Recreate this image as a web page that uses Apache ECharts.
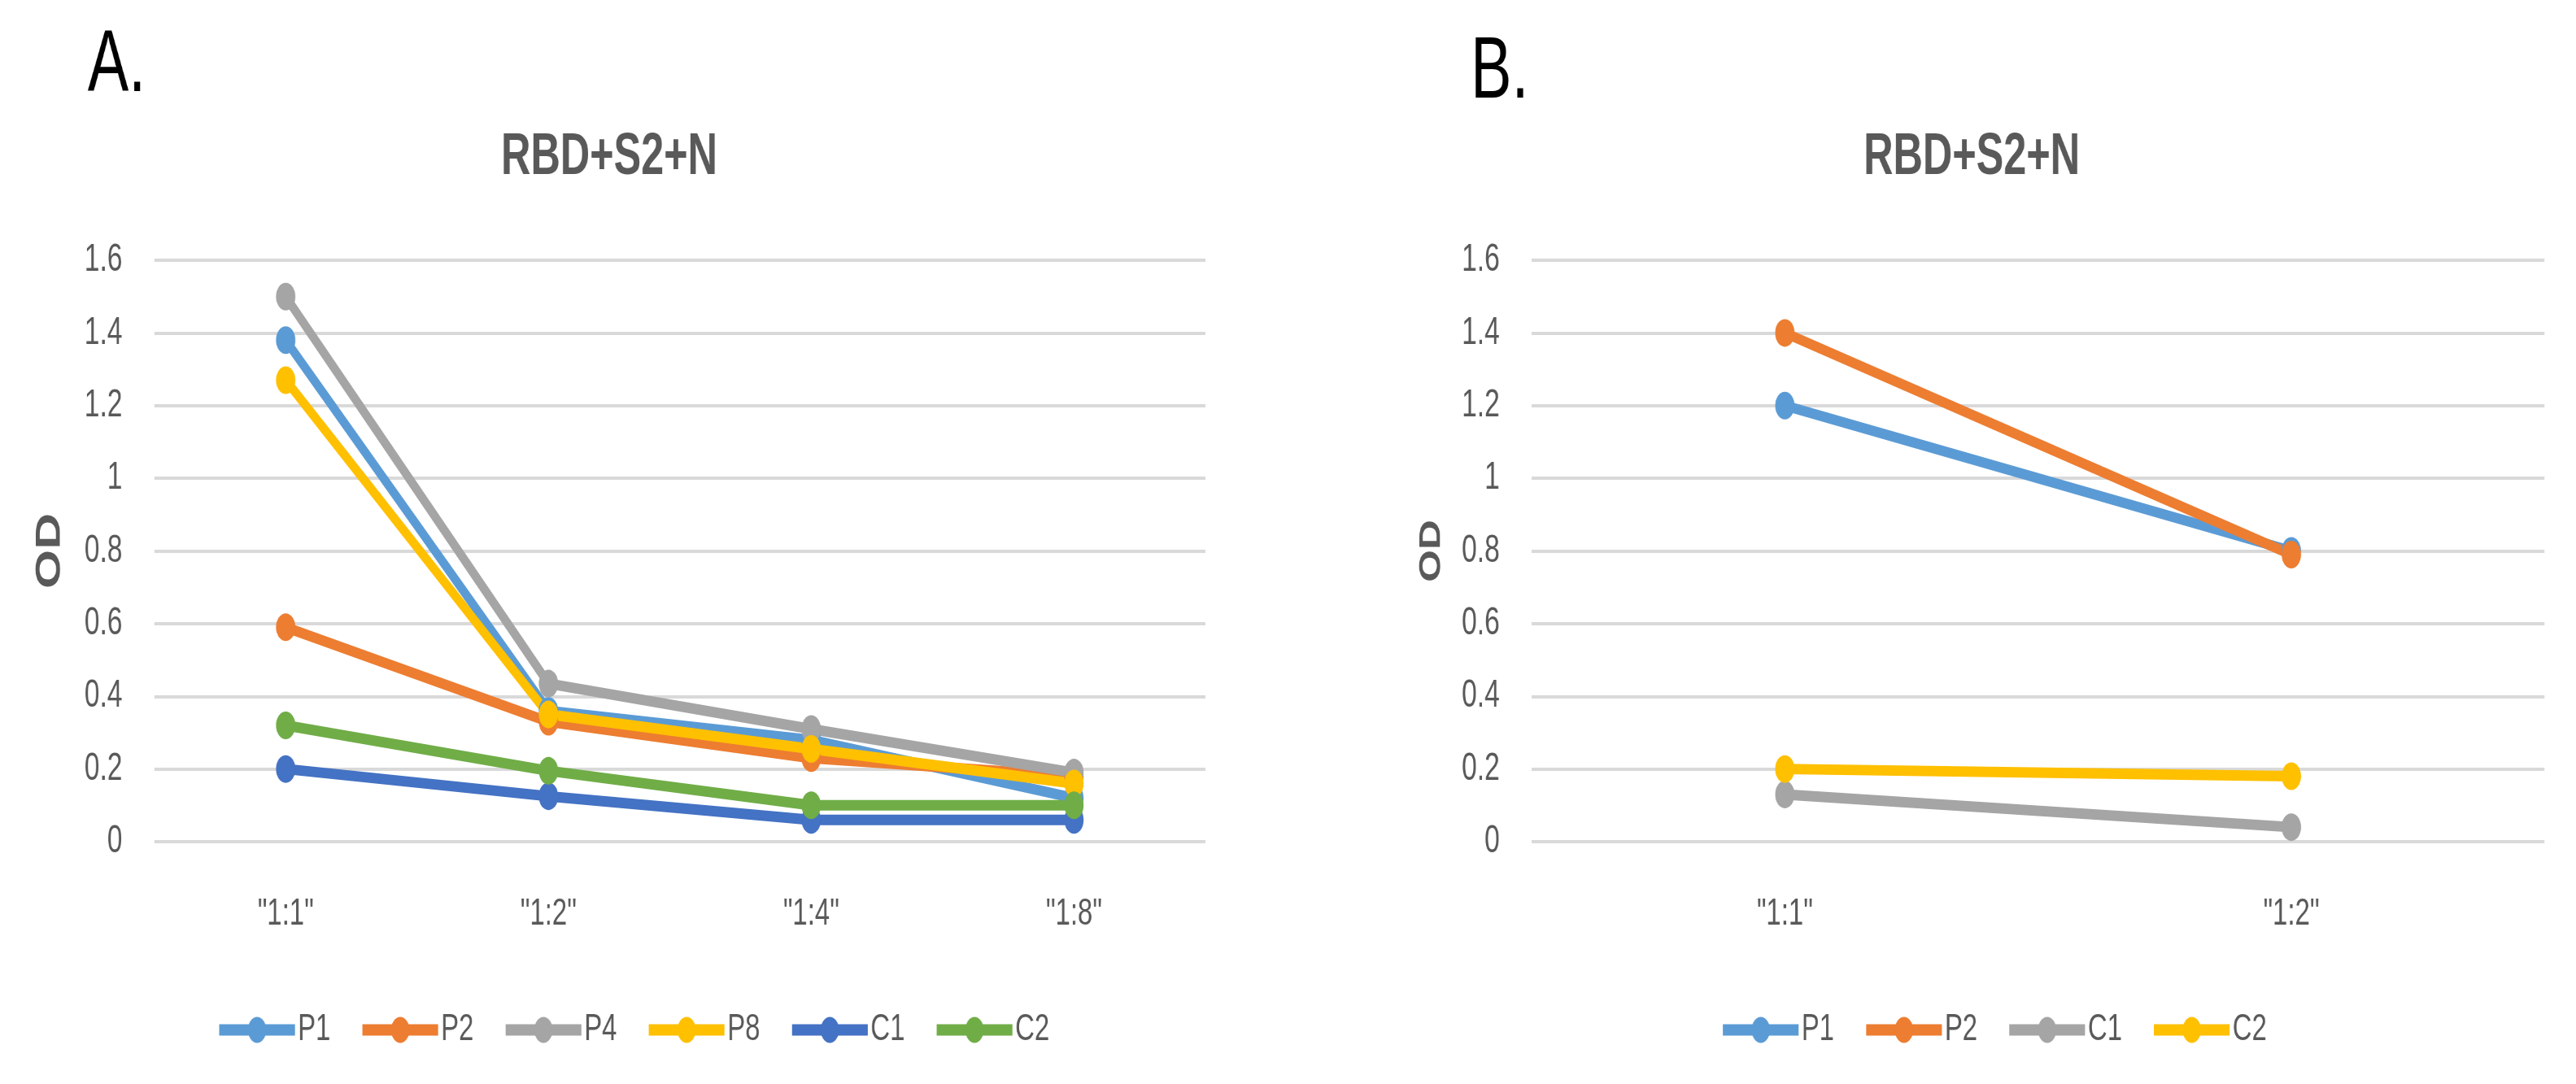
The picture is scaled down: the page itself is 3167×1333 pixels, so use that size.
<!DOCTYPE html>
<html>
<head>
<meta charset="utf-8">
<title>RBD+S2+N</title>
<script src="https://cdn.jsdelivr.net/npm/echarts@6/dist/echarts.min.js"></script>
<style>
  html, body { margin: 0; padding: 0; background: #fff; overflow: hidden; }
  #main { height: 1333px; transform-origin: 0 0; }
</style>
</head>
<body>
<div id="main"></div>
<script>
// panel A: dilution series for patients and controls
var catsA = ['"1:1"', '"1:2"', '"1:4"', '"1:8"'];
var namesA = ['P1', 'P2', 'P4', 'P8', 'C1', 'C2'];
var P1a = [1.38, 0.36, 0.28, 0.12];
var P2a = [0.59, 0.33, 0.23, 0.18];
var P4a = [1.50, 0.435, 0.31, 0.19];
var P8a = [1.27, 0.35, 0.255, 0.16];
var C1a = [0.20, 0.125, 0.06, 0.06];
var C2a = [0.32, 0.195, 0.10, 0.10];

// panel B
var catsB = ['"1:1"', '"1:2"'];
var namesB = ['P1', 'P2', 'C1', 'C2'];
var P1b = [1.20, 0.80];
var P2b = [1.40, 0.79];
var C1b = [0.13, 0.04];
var C2b = [0.20, 0.18];

// y axis ticks
var yMin = 0, yMax = 1.6, yStep = 0.2;

var colorsA = ['#5B9BD5', '#ED7D31', '#A5A5A5', '#FFC000', '#4472C4', '#70AD47'];
var colorsB = ['#5B9BD5', '#ED7D31', '#A5A5A5', '#FFC000'];

// the source figure is squeezed sideways, so the whole canvas is drawn wide and squeezed back
var SQ = 0.7;
var W = 3167;
function sx(v) { return Math.round(v / SQ); }

var FONT = "'Liberation Sans', Arial, sans-serif";
var GREY_TEXT = '#595959';

var el = document.getElementById('main');
el.style.width = sx(W) + 'px';
el.style.transform = 'scaleX(' + SQ + ')';
var chart = echarts.init(el);

function mkX(idx, cats) {
  return {
    type: 'category',
    gridIndex: idx,
    data: cats,
    boundaryGap: true,
    axisLine: { show: false },
    axisTick: { show: false },
    axisLabel: { color: GREY_TEXT, fontSize: 47, fontFamily: FONT, margin: 66 }
  };
}

function mkY(idx, odSize, odGap) {
  return {
    type: 'value',
    gridIndex: idx,
    min: yMin, max: yMax, interval: yStep,
    name: 'OD',
    nameLocation: 'middle',
    nameRotate: 90,
    nameGap: odGap,
    nameTextStyle: { color: GREY_TEXT, fontSize: odSize, fontWeight: 'bold', fontFamily: FONT },
    axisLine: { show: false },
    axisTick: { show: false },
    axisLabel: { color: GREY_TEXT, fontSize: 48, fontFamily: FONT, margin: sx(39) },
    splitLine: { lineStyle: { color: '#D9D9D9', width: 4 } }
  };
}

function mkSeries(name, data, color, idx) {
  return {
    name: name,
    type: 'line',
    xAxisIndex: idx,
    yAxisIndex: idx,
    data: data,
    symbol: 'circle',
    symbolSize: 34,
    lineStyle: { width: 13, color: color },
    itemStyle: { color: color },
    emphasis: { disabled: true }
  };
}

var dataA = [P1a, P2a, P4a, P8a, C1a, C2a];
var dataB = [P1b, P2b, C1b, C2b];
var series = [];
namesA.forEach(function (n, i) { series.push(mkSeries(n, dataA[i], colorsA[i], 0)); });
namesB.forEach(function (n, i) { series.push(mkSeries(n, dataB[i], colorsB[i], 1)); });

function legendItems(names, colors) {
  return names.map(function (n, i) {
    return { name: n, itemStyle: { color: colors[i] }, lineStyle: { color: colors[i], width: 14 } };
  });
}

var legendBase = {
  top: 1238,
  itemWidth: sx(93), itemHeight: 40, itemGap: 49,
  textStyle: { color: GREY_TEXT, fontSize: 47, fontFamily: FONT },
  selectedMode: false
};

var titleStyle = {
  text: 'RBD+S2+N', fontSize: 72, fontWeight: 'bold', fontFamily: FONT, fill: GREY_TEXT,
  align: 'center', verticalAlign: 'middle', textAlign: 'center', textVerticalAlign: 'middle'
};

var option = {
  backgroundColor: '#fff',
  animation: false,
  graphic: [
    { type: 'text', left: sx(108), top: 28, style: { text: 'A.', fontSize: 108, fontFamily: FONT, fill: '#000' } },
    { type: 'text', left: sx(1808), top: 36, style: { text: 'B.', fontSize: 108, fontFamily: FONT, fill: '#000' } },
    { type: 'text', x: sx(749), y: 194, style: titleStyle },
    { type: 'text', x: sx(2424), y: 194, style: titleStyle }
  ],
  grid: [
    { left: sx(190), top: 320, width: sx(1292), height: 715 },
    { left: sx(1883), top: 320, width: sx(1245), height: 715 }
  ],
  xAxis: [mkX(0, catsA), mkX(1, catsB)],
  yAxis: [mkY(0, 62, 152), mkY(1, 51, 150)],
  legend: [
    Object.assign({ data: legendItems(namesA, colorsA), left: sx(261) }, legendBase),
    Object.assign({ data: legendItems(namesB, colorsB), left: sx(2110) }, legendBase)
  ],
  series: series
};

chart.setOption(option);
</script>
</body>
</html>
